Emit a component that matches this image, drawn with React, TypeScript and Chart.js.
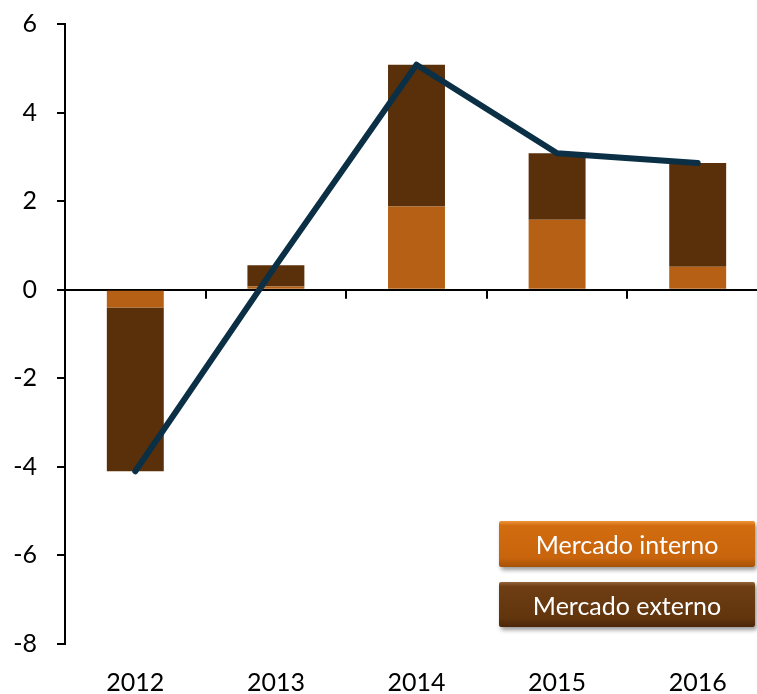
import React, { useEffect, useRef } from "react";
import { Chart, registerables } from "chart.js";

Chart.register(...registerables);

const years = ["2012", "2013", "2014", "2015", "2016"];
const mercadoInterno = [-0.4, 0.07, 1.88, 1.58, 0.52];
const mercadoExterno = [-3.7, 0.48, 3.2, 1.5, 2.34];
const total = [-4.1, 0.55, 5.08, 3.08, 2.86];
const yMin = -8;
const yMax = 6;
const yStep = 2;

const FONT = "Lato, 'Liberation Sans', sans-serif";

const zeroTicksPlugin = {
  id: "zeroTicks",
  beforeDatasetsDraw(chart: any) {
    const x = chart.scales.x;
    const y = chart.scales.y;
    const ctx = chart.ctx;
    const y0 = y.getPixelForValue(0);
    ctx.save();
    ctx.strokeStyle = "#000";
    ctx.lineWidth = 2;
    for (let i = 0; i < years.length - 1; i++) {
      const a = x.getPixelForValue(i);
      const b = x.getPixelForValue(i + 1);
      const xm = Math.round((a + b) / 2);
      ctx.beginPath();
      ctx.moveTo(xm, y0);
      ctx.lineTo(xm, y0 + 9);
      ctx.stroke();
    }
    ctx.restore();
  },
};

export default function App() {
  const ref = useRef<HTMLCanvasElement | null>(null);
  useEffect(() => {
    if (!ref.current) return;
    const chart = new Chart(ref.current, {
      type: "bar",
      data: {
        labels: years,
        datasets: [
          {
            type: "line",
            label: "Total",
            data: total,
            borderColor: "#0B2F45",
            borderWidth: 6,
            pointRadius: 0,
            tension: 0,
            borderCapStyle: "round",
            borderJoinStyle: "round",
            stack: "line",
            order: 0,
          } as any,
          {
            label: "Mercado interno",
            data: mercadoInterno,
            backgroundColor: "#B56014",
            stack: "bars",
            order: 1,
            barPercentage: 0.405,
            categoryPercentage: 1,
          },
          {
            label: "Mercado externo",
            data: mercadoExterno,
            backgroundColor: "#5A300B",
            stack: "bars",
            order: 1,
            barPercentage: 0.405,
            categoryPercentage: 1,
          },
        ],
      },
      options: {
        animation: false,
        responsive: false,
        layout: { padding: { top: 24, right: 0, bottom: 0, left: 0 } },
        plugins: { legend: { display: false }, tooltip: { enabled: false } },
        scales: {
          x: {
            stacked: true,
            grid: { display: false, drawTicks: false },
            border: { display: false },
            ticks: { color: "#000", font: { family: FONT, size: 25 }, padding: 24 },
            afterFit: (s: any) => {
              s.height = 50;
              s.paddingLeft = 0;
              s.paddingRight = 0;
            },
          },
          y: {
            stacked: true,
            min: yMin,
            max: yMax,
            ticks: { stepSize: yStep, color: "#000", font: { family: FONT, size: 25 }, padding: 20 },
            grid: {
              color: (c: any) => (c.tick && c.tick.value === 0 ? "#000" : "rgba(0,0,0,0)"),
              lineWidth: 2,
              tickColor: "#000",
              tickWidth: 2,
              tickLength: 8,
            },
            border: { display: true, color: "#000", width: 2 },
            afterFit: (s: any) => {
              s.width = 65;
              s.paddingTop = 0;
              s.paddingBottom = 0;
            },
          },
        },
      },
      plugins: [zeroTicksPlugin],
    });
    return () => chart.destroy();
  }, []);

  const boxBase: React.CSSProperties = {
    position: "absolute",
    left: 499,
    width: 256,
    color: "#fff",
    fontFamily: FONT,
    fontSize: 25,
    display: "flex",
    alignItems: "center",
    justifyContent: "center",
    boxShadow: "2px 3px 4px rgba(0,0,0,0.4)",
    borderRadius: 2,
  };

  return (
    <div style={{ position: "absolute", left: 0, top: 0, width: 757, height: 694, overflow: "hidden", background: "#fff" }}>
      <canvas ref={ref} width={768} height={694} style={{ display: "block" }} />
      <div
        style={{
          ...boxBase,
          top: 521,
          height: 46,
          background: "linear-gradient(to bottom, #F0943A 0%, #D26C10 10%, #C8640C 80%, #A65208 100%)",
        }}
      >
        Mercado interno
      </div>
      <div
        style={{
          ...boxBase,
          top: 582,
          height: 45,
          background: "linear-gradient(to bottom, #96643A 0%, #6E3E14 10%, #62350D 80%, #4A2608 100%)",
        }}
      >
        Mercado externo
      </div>
    </div>
  );
}
